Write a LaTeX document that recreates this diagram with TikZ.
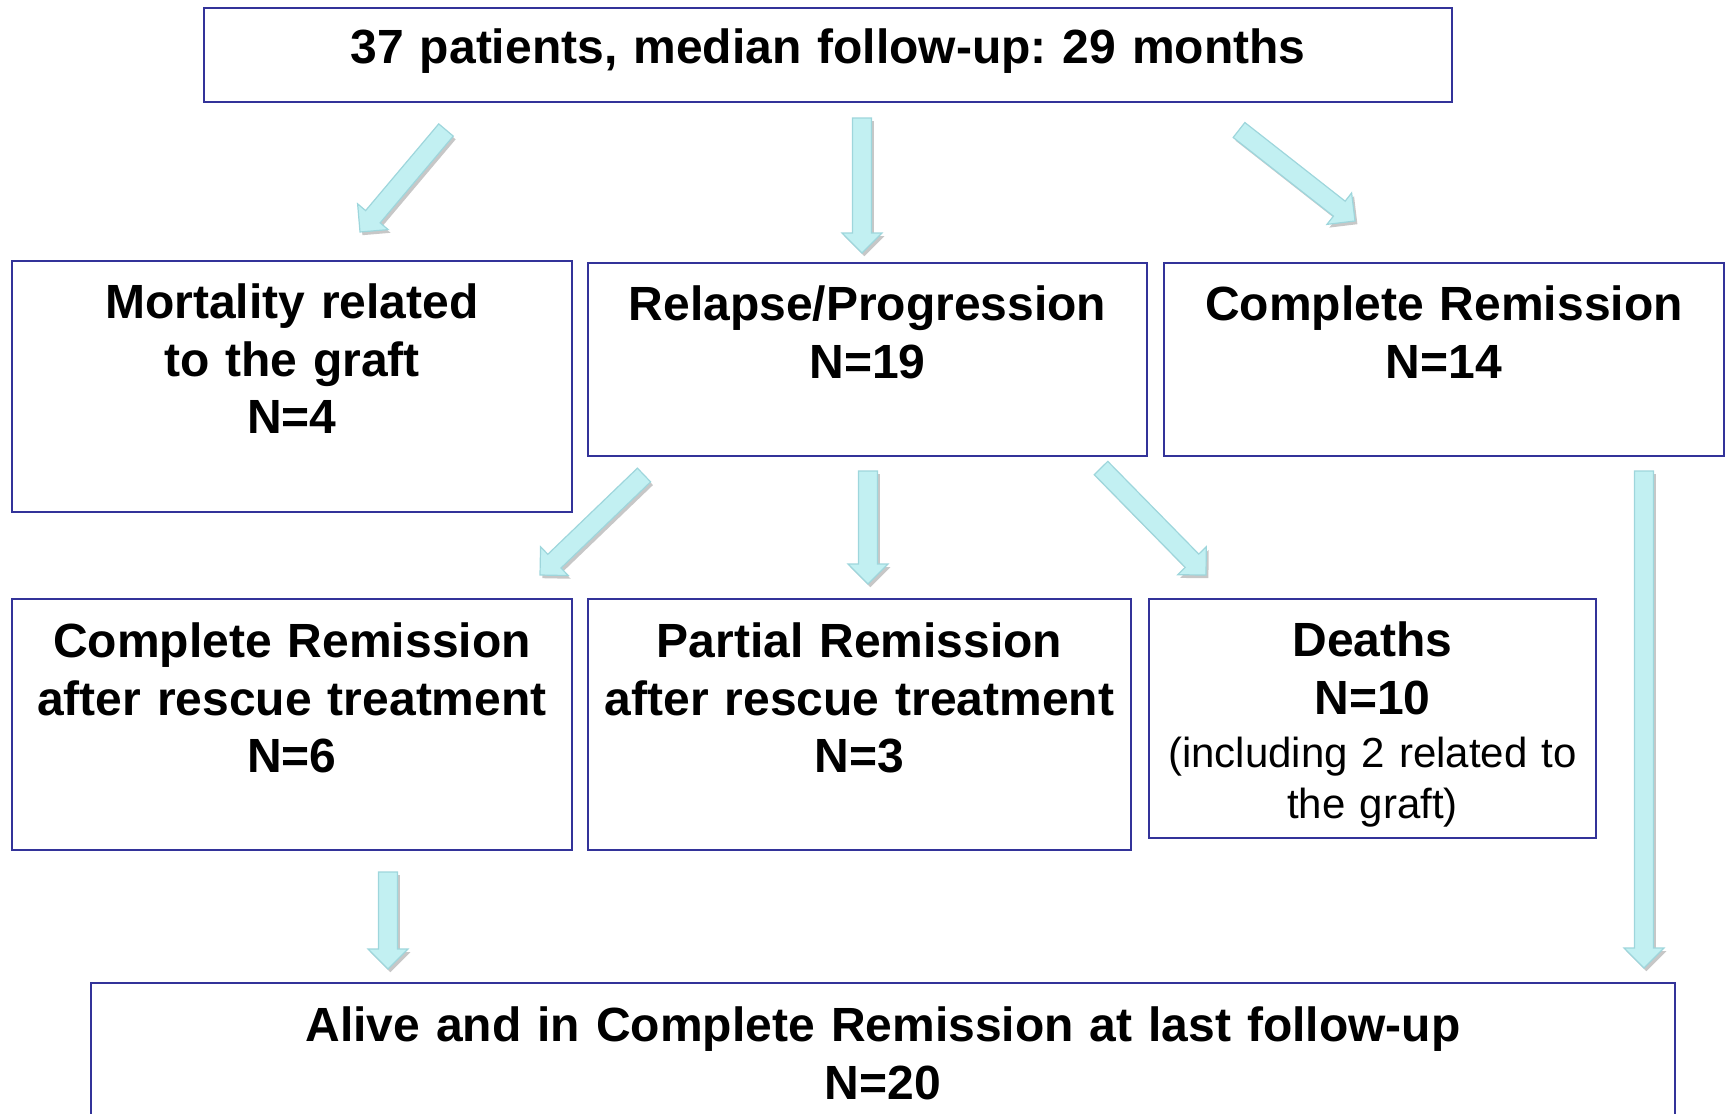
\documentclass[tikz,border=0pt]{standalone}
\usepackage{fontspec}
\setmainfont{Liberation Sans}
\usetikzlibrary{calc}
\frenchspacing

\definecolor{boxblue}{RGB}{51,51,153}
\definecolor{arrowfill}{RGB}{194,240,242}
\definecolor{arrowline}{RGB}{158,214,220}

\tikzstyle{box}=[rectangle,
                 line width=1.2pt,
                 inner sep=0pt,
                 draw=boxblue,
                 fill=white]
\tikzstyle{lbl}=[anchor=base,
                 inner sep=0pt,
                 align=center,
                 font=\bfseries\fontsize{24}{28.75}\selectfont]
\tikzstyle{note}=[anchor=base,
                  inner sep=0pt,
                  align=center,
                  font=\fontsize{21}{25.5}\selectfont]
\tikzstyle{fat}=[line width=0.6pt,
                 line join=miter,
                 draw=arrowline,
                 fill=arrowfill]
\tikzstyle{fatshadow}=[draw=none,
                       fill=black,
                       opacity=0.22,
                       transform canvas={shift={(1.2pt,-1.6pt)}}]

% outline of a broad arrow from #1 to #2
\newcommand{\fatpath}[2]{%
  ($(#1)!4.75pt!90:(#2)$)
  -- ($($(#2)!10pt!(#1)$)!4.75pt!90:(#2)$)
  -- ($($(#2)!10pt!(#1)$)!10pt!90:(#2)$)
  -- (#2)
  -- ($($(#2)!10pt!(#1)$)!10pt!-90:(#2)$)
  -- ($($(#2)!10pt!(#1)$)!4.75pt!-90:(#2)$)
  -- ($(#1)!4.75pt!-90:(#2)$) -- cycle}

\begin{document}
\begin{tikzpicture}[x=0.5pt,y=-0.5pt]
  \useasboundingbox (0,0) rectangle (1727,1113);

  % Boxes
  \node (top) [box, minimum width=624pt, minimum height=47pt] at (828,55) {};
  \node (mort) [box, minimum width=280pt, minimum height=125.5pt] at (292,386.5) {};
  \node (relapse) [box, minimum width=279.5pt, minimum height=96.5pt] at (867.5,359.5) {};
  \node (crem) [box, minimum width=280pt, minimum height=96.5pt] at (1444,359.5) {};
  \node (crres) [box, minimum width=280pt, minimum height=125.5pt] at (292,724.5) {};
  \node (prres) [box, minimum width=271.5pt, minimum height=125.5pt] at (859.5,724.5) {};
  \node (deaths) [box, minimum width=223.5pt, minimum height=119.5pt] at (1372.5,718.5) {};
  \node (alive) [box, minimum width=792pt, minimum height=78.5pt] at (883,1061.5) {};

  % Texts, hung from the top of each box
  \node (top_t) [lbl, text width=600pt] at ($(top.north)+(0,57)$)
    {37 patients, median follow-up: 29 months};
  \node (mort_t) [lbl, text width=270pt] at ($(mort.north)+(0,59)$)
    {Mortality related\\to the graft\\N=4};
  \node (relapse_t) [lbl, text width=270pt] at ($(relapse.north)+(0,59)$)
    {Relapse/Progression\\N=19};
  \node (crem_t) [lbl, text width=270pt] at ($(crem.north)+(0,59)$)
    {Complete Remission\\N=14};
  \node (crres_t) [lbl, text width=275pt] at ($(crres.north)+(0,60)$)
    {Complete Remission\\after rescue treatment\\N=6};
  \node (prres_t) [lbl, text width=268pt] at ($(prres.north)+(0,60)$)
    {Partial Remission\\after rescue treatment\\N=3};
  \node (deaths_t) [lbl, text width=215pt] at ($(deaths.north)+(0,59)$)
    {Deaths\\N=10};
  \node (deaths_n) [note, text width=215pt] at ($(deaths.north)+(0,170)$)
    {(including 2 related to\\the graft)};
  \node (alive_t) [lbl, text width=780pt] at ($(alive.north)+(0,60)$)
    {Alive and in Complete Remission at last follow-up\\N=20};

  % Arrow ends
  \coordinate (top_out1) at (446,130);
  \coordinate (mort_in) at (360,232);
  \coordinate (top_out2) at (862,118);
  \coordinate (relapse_in) at (862,253);
  \coordinate (top_out3) at (1239,130);
  \coordinate (crem_in) at (1355,221);
  \coordinate (relapse_out1) at (644,475);
  \coordinate (crres_in) at (540,575);
  \coordinate (relapse_out2) at (868,471);
  \coordinate (prres_in) at (868,584);
  \coordinate (relapse_out3) at (1101,468);
  \coordinate (deaths_in) at (1206,575);
  \coordinate (crres_out) at (388,872);
  \coordinate (crem_out) at (1644,471);
  \coordinate (alive_in1) at (388,969);
  \coordinate (alive_in2) at (1644,968);

  % The broad arrows, each with a soft shadow
  \foreach \a/\b in {top_out1/mort_in, top_out2/relapse_in, top_out3/crem_in,
                     relapse_out1/crres_in, relapse_out2/prres_in,
                     relapse_out3/deaths_in, crres_out/alive_in1,
                     crem_out/alive_in2} {
    \path[fatshadow] \fatpath{\a}{\b};
    \path[fat] \fatpath{\a}{\b};
  }
\end{tikzpicture}
\end{document}
